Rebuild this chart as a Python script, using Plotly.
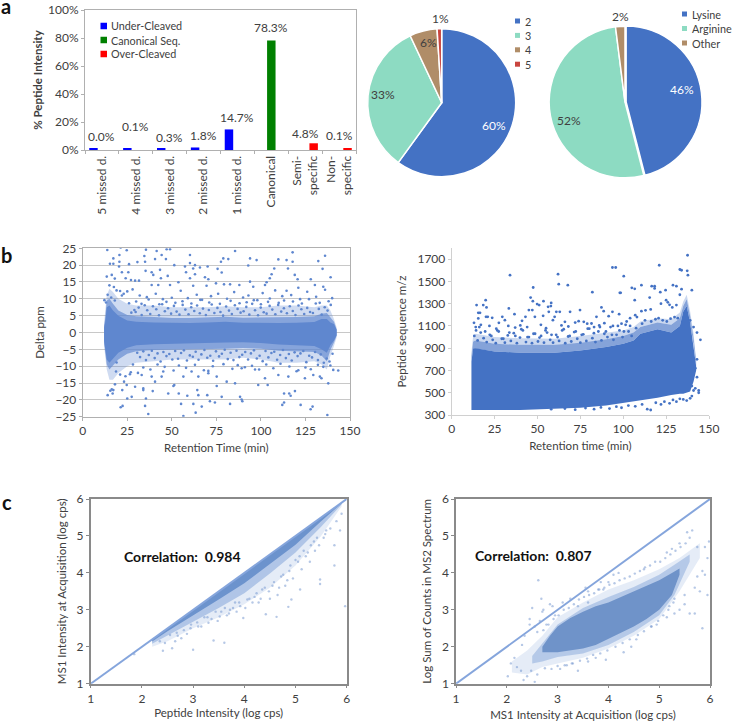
import plotly.graph_objects as go

W, H = 732, 723
FONT = "Lato"
TXT = "#404040"

# ---------- panel a: bars ----------
bar_cats = ["5 missed d.", "4 missed d.", "3 missed d.", "2 missed d.", "1 missed d.",
            "Canonical", "Semi-<br>specific", "Non-<br>specific"]
under_vals = [1.0, 1.0, 1.0, 1.8, 14.7, None, None, None]
canon_vals = [None, None, None, None, None, 78.3, None, None]
over_vals = [None, None, None, None, None, None, 4.8, 1.0]
bar_labels = ["0.0%", "0.1%", "0.3%", "1.8%", "14.7%", "78.3%", "4.8%", "0.1%"]
bar_label_heights = [9.5, 16.5, 8.7, 10.5, 23.5, 87.5, 12, 10]
bar_legend = ["Under-Cleaved", "Canonical Seq.", "Over-Cleaved"]
bar_colors = ["#0000ff", "#008000", "#ff0000"]

# ---------- panel a: pies ----------
charge_labels = ["2", "3", "4", "5"]
charge_vals = [60, 33, 6, 1]
charge_colors = ["#4472c4", "#8ddbc2", "#b08d68", "#c9453f"]
term_labels = ["Lysine", "Arginine", "Other"]
term_vals = [46, 52, 2]
term_colors = ["#4472c4", "#8ddbc2", "#b08d68"]

# ---------- panel b left: delta ppm, envelopes ----------
ppm_x = [12, 12.6, 13.5, 15, 17, 20, 25, 30, 40, 50, 60, 70, 80, 90, 100, 110, 120, 130, 134, 137, 139, 141, 142.5]
ppm_core_hi = [1.5, 3, 7.5, 8, 6.5, 5, 3.6, 3.2, 3, 2.8, 2.8, 3, 3.2, 2.9, 2.8, 2.8, 2.9, 3.1, 4, 4, 3, 2.5, 0.8]
ppm_core_lo = [-2.5, -4, -8, -9, -8, -6, -4.5, -3.8, -3.5, -3.2, -3.2, -3.1, -3, -2.9, -3.1, -3.6, -3.8, -4, -5, -6, -3.8, -2.4, -0.8]
ppm_mid_hi = [2, 4, 9.5, 10, 8.5, 6.5, 5.2, 4.8, 4.6, 4.3, 4.3, 4.5, 4.7, 4.4, 4.4, 4.5, 4.6, 4.8, 5.6, 5.8, 4.4, 3.2, 1]
ppm_mid_lo = [-3, -5, -9.5, -11, -10, -8, -6.3, -5.6, -5.2, -5, -5, -4.9, -4.8, -4.6, -4.8, -5.4, -5.6, -5.8, -6.8, -8.5, -5.2, -3, -1]
ppm_haze_hi = [3, 6, 11, 13, 12, 10, 8.5, 8, 8, 7.5, 7.5, 7.5, 7.8, 7.5, 7.5, 8, 8, 7.5, 8, 8, 6.5, 4, 1.5]
ppm_haze_lo = [-4, -7, -11, -14, -14, -12, -10, -9, -8.5, -8, -8, -8, -8, -7.5, -8, -9, -9, -8.5, -9.5, -11, -7, -4, -1.5]
ppm_pts_x = [13.8, 21.3, 24.7, 35.5, 41.5, 47.1, 49, 17.2, 20.6, 40.6, 34.6, 44.3, 46.7, 60.2, 85.5, 93.9, 97.6, 117.8, 136, 109.8, 114.4, 117.8, 132.2, 78.9, 81.7, 77.6,
             26, 30.7, 35, 17.2, 15.3, 20.6, 60.2, 63, 51.4, 92.9, 65.8, 70.1, 75.7, 62, 57.4, 43.4, 35.3, 38.7, 39.6, 47.7, 20.4, 25.6, 22, 58, 63, 60.2, 43.9, 68.6, 70.5, 78,
             107.5, 106, 115.2, 119, 120.6, 128, 134.6, 139.1, 105, 103.2, 93.9, 13.5, 16.3, 18, 24.1, 27.1, 29.4, 31.6,
             38.7, 42.4, 49, 53.7, 62, 69.5, 74.8, 79.3, 82.7, 87.9, 95.7, 102.3, 130.3, 135, 114.4, 121, 15, 17.5, 19, 21, 23, 25, 28, 32, 36, 41, 45, 50, 55, 59, 64, 67, 72, 76, 81, 85, 90, 93, 98, 101, 105, 108, 112, 117, 122, 126, 131, 136, 140,
             14, 16, 18, 22, 26, 30, 33, 37, 43, 47, 52, 56, 61, 66, 71, 77, 83, 88, 92, 96, 100, 104, 110, 113, 118, 123, 127, 133, 138,
             12.2, 13.1, 18.7, 22.4, 21.3, 35, 36.8, 55.2, 62.1, 63.4, 56.5, 66.8, 71.4, 74.2, 78, 82.7, 88.3, 89.2, 89.6, 112, 113, 113, 122.3, 127.9, 129, 137.3, 116.7, 119.1, 115.9,
             34, 34, 35.5, 39.3, 48, 51.4, 53.9, 64.9, 69.9, 58.7, 64.3, 75.2, 85.5, 103.8, 98.5, 18.1, 23.2, 25, 27.5, 16.3, 15.5, 14, 16.8, 17.2, 22.2, 24.7, 29.4, 33.1, 38.7, 40.6, 44.3, 45.2, 50.9, 56.5, 61.1, 64.9, 70.5, 70.5, 75.2, 80.8, 89.2, 96.7, 102.3, 109.8, 115.4, 121, 124.7, 129.4, 134, 133.1, 137.8, 143.4, 140.6,
             16, 19, 21, 24, 27, 31, 34, 38, 42, 46, 51, 54, 58, 63, 68, 73, 79, 84, 87, 91, 95, 99, 103, 107, 111, 116, 120, 125, 128, 132, 135, 139,
             26.5, 28.2, 29.7, 31.4, 33.1, 34.8, 36.2, 37.9, 39.4, 41.3, 42.8, 44.6, 46.1, 47.9, 49.6, 51.2, 52.7, 54.3, 56.1, 57.6, 59.4, 60.9, 62.6, 64.2, 65.7, 67.5, 69.1, 70.8, 72.4, 73.9, 75.6, 77.3, 78.8, 80.5, 82.1, 83.7, 85.4, 86.9, 88.6, 90.3, 91.8, 93.5, 95.1, 96.7, 98.4, 99.9, 101.6, 103.2, 104.9, 106.4, 108.1, 109.7, 111.4, 112.9, 114.6, 116.2, 117.9, 119.4, 121.1, 122.7, 124.3, 126, 127.6, 129.2, 130.8, 132.5, 134.1, 135.8, 137.4, 139.2,
             27.3, 29, 30.6, 32.2, 34, 35.5, 37.1, 38.8, 40.4, 42, 43.7, 45.3, 47, 48.6, 50.3, 51.9, 53.5, 55.2, 56.8, 58.5, 60.1, 61.8, 63.4, 65, 66.6, 68.3, 69.9, 71.6, 73.2, 74.8, 76.5, 78.1, 79.7, 81.4, 83, 84.6, 86.3, 87.9, 89.5, 91.2, 92.8, 94.4, 96.1, 97.7, 99.3, 101, 102.6, 104.2, 105.9, 107.5, 109.1, 110.8, 112.4, 114, 115.7, 117.3, 118.9, 120.6, 122.2, 123.8, 125.5, 127.1, 128.7, 130.4, 132, 133.6, 135.3, 136.9, 138.5, 140.2]
ppm_pts_y = [24.5, 25.2, 24.4, 24.6, 24.2, 24.7, 24.7, 22, 23, 21.8, 22.7, 23, 21.8, 23, 24.2, 22, 21.5, 23.8, 22.8, 21.7, 21.5, 21, 21.2, 22, 21.8, 21,
             20.3, 20.9, 21, 20.4, 20.4, 21, 20.6, 20, 20, 19.9, 19.3, 19.6, 18.9, 19, 19.6, 18.6, 18.3, 17.9, 17.1, 16.8, 19.6, 17.9, 17.9, 17.9, 17.3, 16.1, 16.1, 16.4, 15.8, 17.8,
             19, 17.3, 19, 17.1, 15.8, 15.8, 18.9, 16.4, 16.1, 14.9, 15.1, 16.6, 17.1, 16, 16.1, 15.6, 15.4, 15.4,
             14.1, 14.1, 14.1, 14.9, 13.9, 13.9, 14.6, 14.3, 14.3, 14.1, 13.6, 14.1, 14.1, 13.6, 12.4, 13.3, 14, 13.5, 12.5, 12.3, 11.5, 12.2, 12.8, 11, 10.5, 11.5, 9.9, 10.3, 12.4, 10.2, 11.2, 9.7, 10.8, 11.5, 10, 12, 10.4, 11, 9.6, 11.7, 10.1, 12.5, 10.8, 11.1, 9.9, 12.1, 10.6, 12.7, 10.2, 11.2, 10.4,
             9.5, 11, 8.7, 9.2, 8.5, 9.8, 8.4, 9.1, 8.8, 9.3, 8.6, 9.7, 8.9, 8.5, 9.4, 8.7, 9, 9.6, 8.4, 9.1, 8.8, 9.5, 9.2, 8.6, 9.9, 8.8, 9.3, 9.6, 8.9,
             -11.6, -21.8, -22.2, -21.8, -24.2, -21.2, -21.2, -23.8, -24.8, -22, -20.4, -20.8, -19.1, -21.2, -19.1, -19.9, -20.4, -21.5, -18.1, -20.8, -21.5, -22.8, -22, -24.5, -18.8, -17.4, -18.1, -17.1, -16.6,
             -19.6, -17.4, -18.1, -15.6, -18.1, -18.6, -18.6, -18.8, -17.1, -15.9, -15.1, -15.6, -15.6, -15.4, -14.6, -19.6, -19.1, -16.9, -17.3, -18.6, -18.1, -17.1, -17.1, -15.6, -16.1, -12.6, -13.1, -14.6, -13.1, -11.6, -15.9, -13.1, -11.6, -13.1, -12.1, -11.4, -13.1, -14.6, -10.6, -11, -13.6, -12.6, -13.1, -11.2, -13.6, -12.6, -13.6, -13.1, -15.1, -11.3, -11.1, -7.5, -8.9,
             -12.5, -13, -11.8, -12, -10.4, -11, -9.5, -10.2, -11.3, -9.8, -10.5, -9.6, -11.2, -10, -9.4, -10.8, -9.7, -10.3, -9.9, -11, -9.5, -10.6, -9.3, -10.1, -11.5, -10.4, -10.9, -9.6, -10.2, -9.8, -12.4, -9.5,
             6.1, 7.4, 5.2, 8.1, 6.6, 5.5, 7.8, 6.9, 5.1, 8.4, 6.3, 7.2, 5.6, 7.9, 6.2, 5.3, 8.2, 6.8, 5.4, 7.5, 6.4, 8, 5.7, 7.1, 5.2, 6.7, 8.3, 5.8, 7.3, 6.1, 5, 7.7, 6.5, 5.5, 8.1, 7, 5.9, 6.3, 7.6, 5.3, 8.5, 6.6, 5.1, 7.4, 6, 5.6, 7.9, 6.8, 5.4, 8.2, 6.2, 7.2, 5.7, 7.8, 6.4, 5.2, 8, 6.9, 5.5, 7.3, 6.1, 5.8, 8.6, 7, 5.3, 7.5, 6.5, 8.2, 5.9, 6.7,
             -6, -7.3, -5.6, -8.2, -6.7, -5.4, -7.6, -6.2, -8.6, -5.8, -7, -6.4, -8, -5.5, -7.8, -6.1, -5.3, -8.3, -6.8, -7.2, -5.7, -8.1, -6.5, -5.2, -7.5, -6.9, -8.4, -5.6, -7.1, -6.3, -5.1, -7.9, -6, -8.2, -5.4, -7.3, -6.6, -5.8, -8, -6.2, -5.3, -7.7, -6.9, -8.5, -5.5, -7.4, -6.1, -5.7, -8.1, -6.7, -5.2, -7.6, -6.4, -8.3, -5.9, -7, -6.2, -5.5, -8.8, -6.9, -7.4, -5.8, -8.2, -6.5, -9, -7.7, -8.6, -6.3, -5.6, -7.1]

# ---------- panel b right: m/z ----------
mz_x = [11.5, 12.5, 14, 25, 40, 50, 60, 75, 90, 100, 106, 110, 120, 128, 133, 135, 137, 139, 141, 142.5]
mz_core_hi = [780, 900, 900, 870, 860, 860, 860, 880, 910, 940, 970, 1030, 1070, 1040, 1100, 1230, 1280, 1130, 930, 740]
mz_core_lo = [345, 345, 345, 345, 345, 345, 355, 365, 385, 405, 420, 430, 455, 480, 490, 490, 500, 510, 600, 700]
mz_haze_hi = [830, 960, 970, 940, 930, 930, 930, 950, 980, 1010, 1040, 1090, 1130, 1110, 1170, 1280, 1340, 1190, 990, 790]
mz_far_hi = [860, 1010, 1030, 1000, 990, 985, 985, 1010, 1040, 1060, 1090, 1140, 1170, 1160, 1220, 1320, 1380, 1230, 1030, 810]
mz_pts_x = [137.5, 93.7, 95.6, 121, 133, 134, 137.3, 137.7, 34, 62, 100.3, 62.4, 67.7, 47.5, 82, 105, 106.7, 110.6, 116.6, 118.3, 118.3, 121.6, 124.7, 129, 131, 98, 98.5, 140,
            46, 106.7, 115.4, 14.5, 18.4, 19.8, 20.3, 33.3, 47.3, 49.8, 51, 53.5, 58, 57.8, 56.2, 45, 47, 56.6, 61, 63, 69, 74.8, 87.3, 88.6, 93.7, 97.6, 110.6, 15.5, 16.5, 36.6, 20, 21, 23.6, 29.5, 43, 48.5, 53.3, 60, 59, 31, 27.5, 15.5, 13, 41, 66, 74, 77, 81.5, 84.4, 91.5, 107, 116, 125, 126, 128.6, 131, 134, 145, 144, 143,
            14, 17, 22, 26, 33, 37, 40, 44, 52, 55, 64, 68, 72, 79, 83, 86, 89, 94, 99, 102, 104, 108, 113, 122, 127, 133, 139, 141, 144, 143,
            13.2, 15.1, 16.9, 18.6, 20.4, 22.2, 23.9, 25.7, 27.4, 29.2, 31, 32.7, 34.5, 36.2, 38, 39.8, 41.5, 43.3, 45, 46.8, 48.6, 50.3, 52.1, 53.8, 55.6, 57.4, 59.1, 60.9, 62.6, 64.4, 66.2, 67.9, 69.7, 71.4, 73.2, 75, 76.7, 78.5, 80.2, 82, 83.8, 85.5, 87.3, 89, 90.8, 92.6, 94.3, 96.1, 97.8, 99.6, 101.4, 103.1, 104.9,
            14.2, 16.1, 19.5, 23.1, 26.6, 30.1, 33.6, 37.1, 40.6, 44.2, 47.7, 51.2, 54.7, 58.2, 61.7, 65.3, 68.8, 72.3, 75.8, 79.3, 82.9, 86.4, 89.9, 93.4, 96.9, 100.4, 104, 107.5, 111, 112.7, 116.3, 118.8, 120.6, 123, 125.4, 127.6, 129.9, 131.8,
            58, 66, 72, 78, 83, 87, 92, 96, 99, 103, 107, 111, 114, 116, 119, 122, 124, 127, 129, 131, 133, 135, 137, 139, 140, 141, 142, 143, 142, 140]
mz_pts_y = [1735, 1625, 1625, 1645, 1607, 1600, 1595, 1556, 1556, 1565, 1547, 1475, 1466, 1445, 1403, 1442, 1433, 1466, 1457, 1457, 1437, 1403, 1421, 1466, 1457, 1397, 1397, 1421,
            1355, 1331, 1355, 1287, 1287, 1331, 1266, 1257, 1322, 1296, 1287, 1322, 1307, 1278, 1272, 1242, 1242, 1227, 1227, 1227, 1227, 1242, 1266, 1233, 1227, 1206, 1233, 1218, 1218, 1206, 1182, 1182, 1173, 1182, 1182, 1182, 1191, 1182, 1152, 1152, 1128, 1167, 1128, 1146, 1137, 1143, 1137, 1122, 1182, 1188, 1197, 1248, 1331, 1312, 1266, 1287, 1430, 975, 520, 1040,
            1090, 1110, 1100, 1075, 1100, 1085, 1105, 1090, 1110, 1080, 1105, 1095, 1130, 1120, 1090, 1105, 1125, 1100, 1120, 1140, 1170, 1180, 1240, 1300, 1290, 1380, 1150, 1090, 500, 800,
            1010, 970, 1040, 990, 955, 1020, 975, 945, 1050, 985, 950, 1015, 965, 1035, 945, 995, 1060, 955, 1000, 945, 1030, 960, 1010, 950, 1040, 975, 950, 1020, 965, 1060, 945, 1005, 960, 1045, 985, 950, 1025, 965, 1075, 990, 955, 1050, 970, 1030, 1000, 1090, 975, 1020, 1060, 1000, 1110, 1050, 1010,
            1060, 1090, 1050, 1010, 1060, 985, 1040, 1010, 1070, 1000, 1030, 995, 1060, 1020, 1000, 1070, 1010, 1050, 1020, 1075, 1035, 1090, 1050, 1020, 1100, 1050, 1100, 1080, 1120, 1150, 1140, 1160, 1170, 1150, 1140, 1165, 1180, 1170,
            352, 358, 348, 362, 352, 368, 358, 375, 365, 385, 378, 395, 352, 345, 410, 395, 420, 405, 435, 420, 445, 440, 430, 450, 470, 520, 540, 640, 720, 560]

# ---------- panel c ----------
diag_vals = [1, 6]
cl_x = [2.2, 2.5, 3, 3.5, 4, 4.5, 5, 5.5, 5.9]
cl_core_lo = [2.14, 2.42, 2.86, 3.28, 3.72, 4.24, 4.76, 5.4, 5.88]
cl_mid_lo = [2.08, 2.3, 2.68, 3.05, 3.45, 3.98, 4.55, 5.25, 5.85]
cl_haze_lo = [2.0, 2.15, 2.5, 2.8, 3.15, 3.6, 4.2, 5.0, 5.8]
cl_pts_x = [5.97, 5.76, 5.87, 5.76, 5.48, 5.48, 5.38, 5.28, 5.09, 4.92, 4.86, 4.63, 4.42, 3.98, 3.66, 3.61, 3.4, 3.0, 2.41, 2.45, 2.59, 2.77,
            5.6, 5.55, 5.42, 5.3, 5.2, 5.12, 5.05, 4.95, 4.88, 4.8, 4.72, 4.65, 4.55, 4.5, 4.35, 4.28, 4.2, 4.1, 4.02, 3.9, 3.85, 3.78, 3.7, 3.55, 3.48, 3.3, 3.22, 3.1, 2.95, 2.88, 2.7, 2.65, 2.35, 1.85,
            2.55, 2.68, 2.82, 2.96, 3.08, 3.16, 3.28, 3.36, 3.44, 3.52, 3.62, 3.72, 3.82, 3.92, 4.06, 4.16, 4.24, 4.32, 4.4, 4.48, 4.58, 4.68, 4.76, 4.84, 4.9, 5.0, 5.08, 5.16, 5.24, 5.36, 5.46, 5.58, 5.68, 5.8, 5.9]
cl_pts_y = [3.1, 4.2, 5.15, 4.75, 3.82, 3.7, 4.6, 4.3, 3.55, 3.28, 3.08, 2.81, 2.88, 2.78, 2.85, 2.11, 2.17, 1.92, 1.89, 2.1, 1.96, 2.23,
            5.15, 4.95, 4.95, 4.75, 4.45, 4.1, 4.3, 3.85, 4.05, 3.65, 3.9, 3.4, 3.65, 3.3, 3.55, 3.2, 3.35, 3.3, 3.05, 3.2, 2.95, 3.05, 2.9, 2.95, 2.7, 2.65, 2.8, 2.55, 2.5, 2.35, 2.3, 2.15, 2.15, 1.8,
            2.32, 2.38, 2.45, 2.6, 2.66, 2.55, 2.8, 2.75, 2.95, 2.82, 3.05, 3.0, 3.2, 3.1, 3.28, 3.2, 3.45, 3.3, 3.6, 3.5, 3.75, 3.6, 3.95, 3.8, 4.2, 4.35, 4.45, 4.6, 4.55, 4.85, 4.75, 5.05, 5.2, 5.4, 5.6]
cr_x = [2.7, 2.85, 3, 3.25, 3.5, 3.75, 4, 4.25, 4.5, 4.75, 5, 5.25, 5.4]
cr_core_hi = [2.0, 2.3, 2.55, 2.78, 2.95, 3.1, 3.2, 3.35, 3.5, 3.65, 3.8, 4.0, 4.12]
cr_core_lo = [1.85, 1.85, 1.85, 1.9, 1.95, 2.05, 2.2, 2.38, 2.55, 2.75, 3.0, 3.4, 3.95]
cr_mx = [2.5, 2.7, 3, 3.5, 4, 4.5, 5, 5.3, 5.6]
cr_mid_hi = [1.75, 2.1, 2.6, 3.05, 3.35, 3.62, 3.95, 4.22, 4.5]
cr_mid_lo = [1.55, 1.6, 1.72, 1.82, 2.05, 2.4, 2.85, 3.4, 4.3]
cr_hx = [2.1, 2.4, 2.7, 3, 3.5, 4, 4.5, 5, 5.4, 5.8]
cr_haze_hi = [1.6, 1.9, 2.3, 2.8, 3.2, 3.55, 3.8, 4.1, 4.4, 4.8]
cr_haze_lo = [1.3, 1.25, 1.45, 1.55, 1.7, 1.95, 2.3, 2.75, 3.5, 4.4]
cr_pts_x = [2.02, 2.08, 2.15, 2.2, 2.28, 2.33, 2.4, 2.48, 2.55, 2.6, 2.62, 2.68, 2.72, 2.78, 2.85, 2.5, 2.45, 2.9, 2.95, 2.3, 2.35, 2.6, 2.55, 2.45, 2.65, 2.7,
            3.05, 3.1, 3.18, 3.25, 3.3, 3.4, 3.55, 3.6, 3.75, 3.85, 3.95, 4.1, 4.3, 4.45, 3.6, 3.8, 4.0, 4.2, 4.55, 4.7, 4.85, 4.95, 5.02, 5.15, 5.25, 5.3, 5.4, 5.5, 5.55, 5.6, 5.65, 5.7, 5.75, 5.8, 5.85, 5.9, 5.95, 5.98, 5.95, 5.9, 5.85, 5.75, 5.7, 5.6, 5.5, 5.4, 5.3, 5.2, 5.15, 5.05, 3.4, 3.6, 3.9,
            2.72, 2.82, 2.92, 3.02, 3.12, 3.22, 3.32, 3.42, 3.52, 3.62, 3.72, 3.82, 3.92, 4.02, 4.12, 4.22, 4.32, 4.42, 4.52, 4.62, 4.72, 4.82, 4.92, 5.12, 5.22, 5.32, 5.42, 5.52,
            2.75, 2.88, 3.0, 3.14, 3.28, 3.44, 3.58, 3.7, 3.84, 3.98, 4.14, 4.28, 4.42, 4.58, 4.7, 4.84, 4.98, 5.08, 5.18, 5.28]
cr_pts_y = [1.2, 1.55, 1.7, 1.45, 1.35, 1.1, 1.2, 1.35, 1.05, 1.25, 3.8, 3.3, 3.0, 2.6, 3.15, 3.05, 2.6, 3.1, 2.85, 2.05, 2.3, 2.4, 2.55, 2.75, 2.7, 2.95,
            1.4, 3.2, 1.5, 3.3, 1.55, 1.35, 3.6, 1.6, 1.7, 3.75, 1.65, 3.95, 1.85, 2.0, 3.5, 3.55, 3.75, 4.0, 2.2, 4.1, 2.55, 2.6, 4.3, 2.8, 4.65, 2.9, 4.8, 3.4, 5.1, 4.95, 5.15, 2.9, 4.7, 3.5, 4.05, 4.7, 3.4, 4.85, 4.4, 3.95, 2.5, 3.9, 3.6, 2.9, 3.15, 3.0, 3.3, 3.1, 4.55, 3.25, 3.1, 3.2, 3.55,
            2.45, 2.6, 2.75, 2.85, 3.0, 3.05, 3.15, 3.28, 3.35, 3.4, 3.45, 3.55, 3.6, 3.68, 3.72, 3.8, 3.85, 3.9, 3.98, 4.05, 4.15, 4.2, 4.3, 4.4, 4.5, 4.6, 4.7, 4.8,
            1.42, 1.4, 1.48, 1.5, 1.55, 1.62, 1.68, 1.78, 1.82, 1.9, 2.0, 2.1, 2.2, 2.32, 2.42, 2.55, 2.7, 2.85, 3.0, 3.2]

BLUE = "#4472c4"
PPM = "#5f87cf"
PT_C = "rgba(110,145,205,0.5)"


def dom_x(a, b):
    return [a / W, b / W]


def dom_y(top, bottom):
    return [1 - bottom / H, 1 - top / H]


def band(xs, hi, lo, color, xa, ya):
    return go.Scatter(x=xs + xs[::-1], y=hi + lo[::-1], mode="lines", fill="toself", fillcolor=color,
                      line=dict(width=0), xaxis=xa, yaxis=ya, showlegend=False, hoverinfo="skip")


def pts(xs, ys, color, size, xa, ya):
    return go.Scatter(x=xs, y=ys, mode="markers", marker=dict(color=color, size=size, line=dict(width=0)),
                      xaxis=xa, yaxis=ya, showlegend=False, hoverinfo="skip")


fig = go.Figure()

# bars
for name, vals, col in zip(bar_legend, [under_vals, canon_vals, over_vals], bar_colors):
    fig.add_trace(go.Bar(name=name, x=bar_cats, y=vals, marker_color=col, marker_line_width=0, showlegend=False))

# pies
fig.add_trace(go.Pie(labels=charge_labels, values=charge_vals, sort=False, direction="clockwise", rotation=0,
                     domain=dict(x=dom_x(367.7, 515.7), y=dom_y(28.7, 176.7)), textinfo="none", showlegend=False,
                     marker=dict(colors=charge_colors, line=dict(color="white", width=1.5))))
fig.add_trace(go.Pie(labels=term_labels, values=term_vals, sort=False, direction="clockwise", rotation=0,
                     pull=[0.015, 0, 0], domain=dict(x=dom_x(548, 702), y=dom_y(25, 179)), textinfo="none", showlegend=False,
                     marker=dict(colors=term_colors, line=dict(color="white", width=1.5))))

# b left
fig.add_trace(band(ppm_x, ppm_haze_hi, ppm_haze_lo, "rgba(95,135,207,0.3)", "x2", "y2"))
fig.add_trace(band(ppm_x, ppm_mid_hi, ppm_mid_lo, "rgba(95,135,207,0.65)", "x2", "y2"))
fig.add_trace(band(ppm_x, ppm_core_hi, ppm_core_lo, PPM, "x2", "y2"))
fig.add_trace(pts(ppm_pts_x, ppm_pts_y, PPM, 2.6, "x2", "y2"))

# b right
fig.add_trace(band(mz_x, mz_far_hi, mz_haze_hi, "rgba(68,114,196,0.28)", "x3", "y3"))
fig.add_trace(band(mz_x, mz_haze_hi, mz_core_hi, "rgba(68,114,196,0.65)", "x3", "y3"))
fig.add_trace(band(mz_x, mz_core_hi, mz_core_lo, BLUE, "x3", "y3"))
fig.add_trace(pts(mz_pts_x, mz_pts_y, BLUE, 2.8, "x3", "y3"))

# c left
fig.add_trace(band(cl_x, cl_x, cl_haze_lo, "rgba(110,150,210,0.18)", "x4", "y4"))
fig.add_trace(band(cl_x, cl_x, cl_mid_lo, "rgba(110,150,210,0.45)", "x4", "y4"))
fig.add_trace(band(cl_x, cl_x, cl_core_lo, "#6c93cd", "x4", "y4"))
fig.add_trace(pts(cl_pts_x, cl_pts_y, PT_C, 2.4, "x4", "y4"))
fig.add_trace(go.Scatter(x=diag_vals, y=diag_vals, mode="lines", line=dict(color="#85a5dc", width=2), xaxis="x4", yaxis="y4", showlegend=False, hoverinfo="skip"))

# c right
fig.add_trace(band(cr_hx, cr_haze_hi, cr_haze_lo, "rgba(110,150,210,0.18)", "x5", "y5"))
fig.add_trace(band(cr_mx, cr_mid_hi, cr_mid_lo, "rgba(110,150,210,0.4)", "x5", "y5"))
fig.add_trace(band(cr_x, cr_core_hi, cr_core_lo, "#6f93c9", "x5", "y5"))
fig.add_trace(pts(cr_pts_x, cr_pts_y, PT_C, 2.4, "x5", "y5"))
fig.add_trace(go.Scatter(x=diag_vals, y=diag_vals, mode="lines", line=dict(color="#85a5dc", width=2), xaxis="x5", yaxis="y5", showlegend=False, hoverinfo="skip"))

tick = dict(family=FONT, size=12, color=TXT)
title_font = dict(family=FONT, size=11.5, color=TXT)
GRAY = "#b0b0b0"
DARK = "#8a8a8a"


def axis(dom, anchor, rng, dtick, title, standoff, line=GRAY, mirror=True, width=1, tick0=None, **kw):
    d = dict(domain=dom, anchor=anchor, range=rng, dtick=dtick, showgrid=False, zeroline=False, showline=True,
             linecolor=line, linewidth=width, mirror=mirror, ticks="outside", ticklen=3, tickcolor=line,
             tickfont=tick, title=dict(text=title, font=title_font, standoff=standoff))
    if tick0 is not None:
        d["tick0"] = tick0
    d.update(kw)
    return d


layout = dict(
    width=W, height=H, autosize=False, margin=dict(l=0, r=0, t=0, b=0, autoexpand=False), paper_bgcolor="white", plot_bgcolor="white",
    barmode="group", bargap=0.25, bargroupgap=0, font=dict(family=FONT, size=12, color=TXT), showlegend=False,
    xaxis=dict(domain=dom_x(85, 356), anchor="y", type="category", tickangle=-90, tickson="boundaries", ticks="outside", ticklen=3,
               tickcolor=GRAY, showline=True, linecolor=GRAY, mirror=True, tickfont=tick, showgrid=False, zeroline=False),
    yaxis=dict(domain=dom_y(10, 150), anchor="x", range=[0, 100], dtick=20, ticksuffix="%", showgrid=False, zeroline=False, showline=True,
               linecolor=GRAY, mirror=True, ticks="outside", ticklen=3, tickcolor=GRAY, tickfont=tick,
               title=dict(text="<b>% Peptide Intensity</b>", font=title_font, standoff=3)),
    xaxis2=axis(dom_x(82.7, 350), "y2", [0, 150], 25, "Retention Time (min)", 6),
    yaxis2=axis(dom_y(248.3, 416.7), "x2", [-25, 25], 5, "Delta ppm", 8, showgrid=True, gridcolor="#c8c8c8", gridwidth=1),
    xaxis3=axis(dom_x(451.7, 709), "y3", [0, 150], 25, "Retention time (min)", 6, mirror=False, line="#d0d0d0"),
    yaxis3=axis(dom_y(248, 415), "x3", [300, 1800], 200, "Peptide sequence m/z", 8, mirror=False, line="#d0d0d0", tick0=300),
    xaxis4=axis(dom_x(90.7, 346.7), "y4", [1, 6], 1, "Peptide Intensity (log cps)", 4, line=DARK, width=1.5),
    yaxis4=axis(dom_y(499, 683.7), "x4", [1, 6], 1, "MS1 Intensity at Acquisition (log cps)", 8, line=DARK, width=1.5),
    xaxis5=axis(dom_x(456, 710), "y5", [1, 6], 1, "MS1 Intensity at Acquisition (log cps)", 6, line=DARK, width=1.5),
    yaxis5=axis(dom_y(499, 683.7), "x5", [1, 6], 1, "Log Sum of Counts in MS2 Spectrum", 8, line=DARK, width=1.5),
)

ann = []
shapes = []


def note(text, px, py, size=12, color=TXT, xanchor="center"):
    ann.append(dict(text=text, x=px / W, y=1 - py / H, xref="paper", yref="paper", xanchor=xanchor, yanchor="middle",
                    showarrow=False, borderpad=0, font=dict(family=FONT, size=size, color=color)))


def legend_rows(labels, colors, swatch_x, text_x, first_y, step, side):
    for i, (lab, col) in enumerate(zip(labels, colors)):
        cy = first_y + i * step
        shapes.append(dict(type="rect", xref="paper", yref="paper", x0=swatch_x / W, x1=(swatch_x + side) / W,
                           y0=1 - (cy + side / 2) / H, y1=1 - (cy - side / 2) / H, fillcolor=col, line=dict(width=0)))
        note(lab, text_x, cy, size=10.8, xanchor="left")


legend_rows(bar_legend, bar_colors, 100.5, 110, 26, 14, 6.5)
legend_rows(charge_labels, charge_colors, 515, 524, 21, 14.4, 5)
legend_rows(term_labels, term_colors, 682, 690.5, 14, 14.5, 5)

for lab, cat, h in zip(bar_labels, bar_cats, bar_label_heights):
    ann.append(dict(text=lab, x=cat, y=h, xref="x", yref="y", showarrow=False, yanchor="middle", font=tick))

note("60%", 493.7, 125, color="white")
note("33%", 383.3, 95)
note("6%", 428.7, 42.7)
note("1%", 440, 18)
note("46%", 682, 89, color="white")
note("52%", 569, 120.7)
note("2%", 620, 16.7)
note("<b>a</b>", 0, 6, size=20, color="#111111", xanchor="left")
note("<b>b</b>", 0, 255, size=20, color="#111111", xanchor="left")
note("<b>c</b>", 1, 502, size=20, color="#111111", xanchor="left")
note("<b>Correlation:\u00a0 0.984</b>", 123, 556.7, size=14, color="#111111", xanchor="left")
note("<b>Correlation:\u00a0 0.807</b>", 474.3, 555.3, size=14, color="#111111", xanchor="left")
layout["annotations"] = ann
layout["shapes"] = shapes

fig.update_layout(**layout)
fig.write_html("out.html", config={"displayModeBar": False}, post_script="document.body.style.margin='0';")
